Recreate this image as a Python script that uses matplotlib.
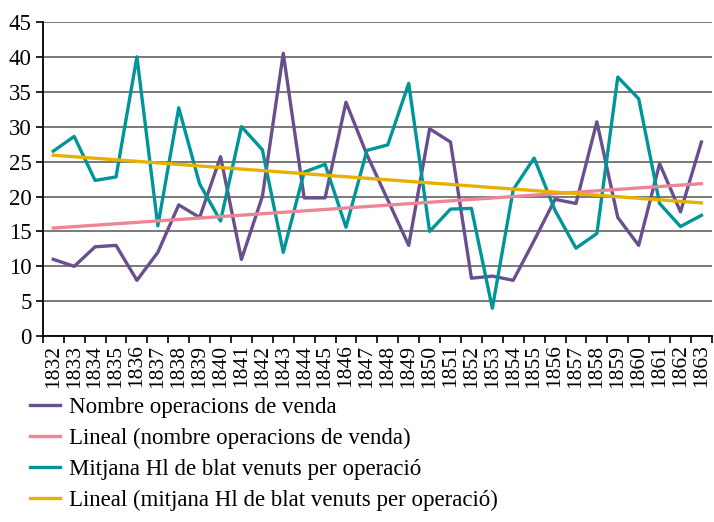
import numpy as np
import matplotlib.pyplot as plt
from matplotlib.ticker import FixedLocator

years = list(range(1832, 1864))
operacions = [11, 10, 12.8, 13, 8, 12, 18.8, 17, 25.7, 11, 20, 40.5, 19.8, 19.8, 33.5, 26,
              19.5, 13, 29.7, 27.8, 8.3, 8.6, 8, 13.7, 19.6, 19, 30.7, 17, 13, 24.7, 17.8, 27.8]
mitjana = [26.5, 28.6, 22.3, 22.8, 40, 15.8, 32.7, 21.8, 16.5, 30, 26.7, 12, 23.5, 24.6, 15.6, 26.6,
           27.4, 36.2, 15, 18.2, 18.3, 4, 21, 25.5, 18, 12.6, 14.7, 37.1, 34, 19, 15.7, 17.3]

labels = ["Nombre operacions de venda",
          "Lineal (nombre operacions de venda)",
          "Mitjana Hl de blat venuts per operació",
          "Lineal (mitjana Hl de blat venuts per operació)"]
colors = ["#6a4f8e", "#ee8597", "#009598", "#e8b100"]

plt.rcParams['font.family'] = ['Liberation Serif', 'DejaVu Serif']

x = np.arange(len(years))
# linear trend lines, as in the spreadsheet
tr_op = np.polyval(np.polyfit(x, operacions, 1), x)
tr_mi = np.polyval(np.polyfit(x, mitjana, 1), x)

fig = plt.figure(figsize=(7.14, 5.22), dpi=100)
ax = fig.add_axes([0.060, 0.356, 0.937, 0.602])

l1, = ax.plot(x, operacions, color=colors[0], lw=2.4, zorder=3)
l2, = ax.plot(x, tr_op, color=colors[1], lw=2.4, zorder=4)
l3, = ax.plot(x, mitjana, color=colors[2], lw=2.4, zorder=3)
l4, = ax.plot(x, tr_mi, color=colors[3], lw=2.4, zorder=4)

ax.set_ylim(0, 45)
ax.set_yticks(range(0, 46, 5))
ax.set_xlim(-0.5, len(years) - 0.5)
ax.set_xticks(x)
ax.set_xticklabels(years, rotation=90, fontsize=15.5)
ax.tick_params(axis='x', length=0, pad=6)
ax.xaxis.set_minor_locator(FixedLocator(np.arange(-0.5, len(years), 1)))
ax.tick_params(axis='x', which='minor', length=5, width=1.2, direction='out')
ax.tick_params(axis='y', length=5, width=1.2, labelsize=16.5, pad=3)
ax.grid(axis='y', color='#6e6e6e', lw=1.3, zorder=1)
for s in ['top', 'right']:
    ax.spines[s].set_visible(False)
ax.spines['left'].set_linewidth(1.3)
ax.spines['bottom'].set_linewidth(1.3)

fig.legend([l1, l2, l3, l4], labels, loc='upper left', bbox_to_anchor=(0.026, 0.262),
           frameon=False, fontsize=16.5, handlelength=1.3, handletextpad=0.4,
           labelspacing=0.43, borderpad=0)

fig.savefig("out.png", dpi=100)
